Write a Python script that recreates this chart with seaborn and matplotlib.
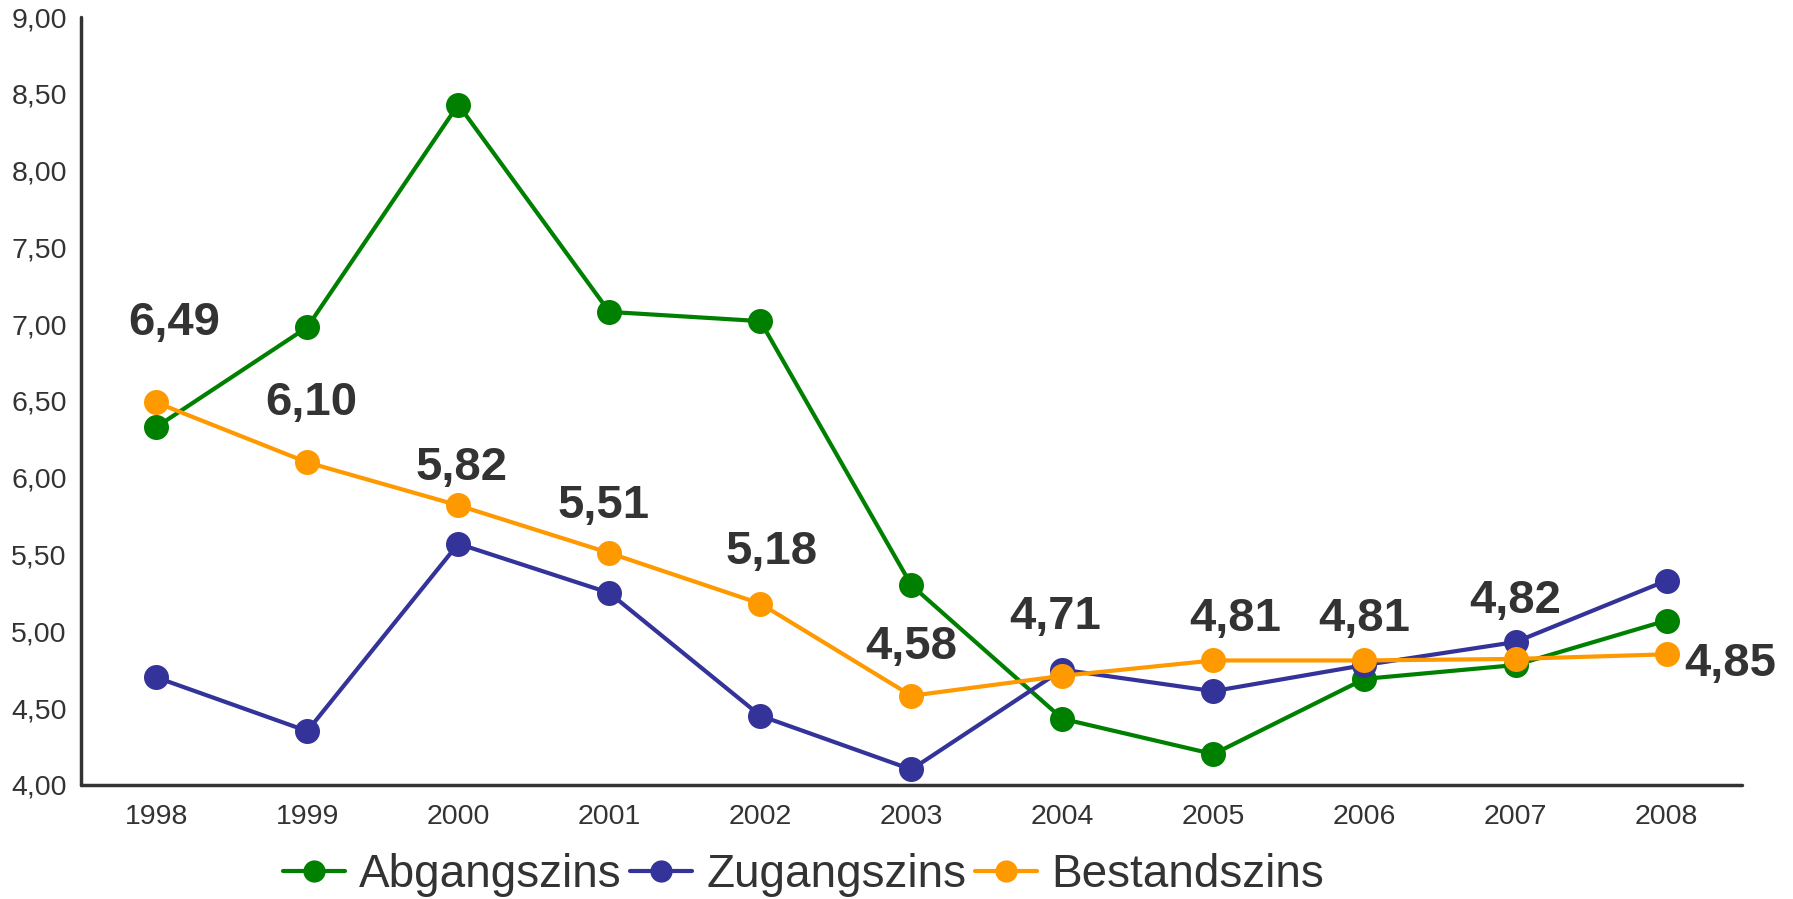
import matplotlib
matplotlib.use("Agg")
import matplotlib.pyplot as plt
import seaborn as sns
import pandas as pd

years = [1998, 1999, 2000, 2001, 2002, 2003, 2004, 2005, 2006, 2007, 2008]
abgangszins = [6.33, 6.98, 8.43, 7.08, 7.02, 5.30, 4.43, 4.20, 4.69, 4.78, 5.07]
zugangszins = [4.70, 4.35, 5.57, 5.25, 4.45, 4.10, 4.75, 4.61, 4.78, 4.93, 5.33]
bestandszins = [6.49, 6.10, 5.82, 5.51, 5.18, 4.58, 4.71, 4.81, 4.81, 4.82, 4.85]

series_names = ["Abgangszins", "Zugangszins", "Bestandszins"]
colors = ["#008000", "#333399", "#FF9900"]

# Versatz der Wertbeschriftungen in Punkten (x, y)
label_offsets = [(13, 57), (3, 43), (2, 27), (-4, 34), (8, 37), (0, 35),
                 (-5, 42), (16, 30), (0, 30), (0, 42), (46, -7)]


def build_frame():
    rows = []
    for name, vals in zip(series_names, [abgangszins, zugangszins, bestandszins]):
        for y, v in zip(years, vals):
            rows.append({"Jahr": y, "Zins": v, "Reihe": name})
    return pd.DataFrame(rows)


def main():
    sns.set_style("white")
    plt.rcParams["font.family"] = ["Liberation Sans", "DejaVu Sans"]
    text_color = "#333333"

    data = build_frame()
    fig = plt.figure(figsize=(17.93, 8.99), dpi=100)
    ax = fig.add_axes([0.045, 0.127, 0.9266, 0.854])

    sns.lineplot(data=data, x="Jahr", y="Zins", hue="Reihe", hue_order=series_names,
                 palette=colors, marker="o", markersize=18, linewidth=3,
                 markeredgewidth=0, ax=ax, legend=True)

    ax.set_xlim(1997.5, 2008.5)
    ax.set_ylim(4.0, 9.0)
    ax.set_xticks(years)
    ax.set_xticklabels([str(y) for y in years])
    yt = [4.0 + 0.5 * i for i in range(11)]
    ax.set_yticks(yt)
    ax.set_yticklabels([f"{v:.2f}".replace(".", ",") for v in yt])
    ax.tick_params(axis="both", length=0, labelsize=20.5, colors=text_color, pad=14)
    ax.tick_params(axis="y", pad=10)
    ax.set_xlabel("")
    ax.set_ylabel("")
    sns.despine(ax=ax)
    for side in ["left", "bottom"]:
        ax.spines[side].set_color(text_color)
        ax.spines[side].set_linewidth(2.5)
        ax.spines[side].set_capstyle("round")

    # Werte der Bestandszins-Reihe
    for y, v, off in zip(years, bestandszins, label_offsets):
        label = f"{v:.2f}".replace(".", ",")
        ax.annotate(label, (y, v), xytext=off, textcoords="offset points",
                    ha="center", va="center", fontsize=34, fontweight="bold",
                    color=text_color)

    handles, labels = ax.get_legend_handles_labels()
    for h in handles:
        h.set_markersize(16)
    ax.legend(handles, labels, loc="center", bbox_to_anchor=(0.448, 0.027),
              bbox_transform=fig.transFigure, ncol=3, frameon=False,
              fontsize=33, labelcolor=text_color, handlelength=1.35,
              handletextpad=0.3, columnspacing=0.2)

    fig.savefig("out.png", dpi=100)


if __name__ == "__main__":
    main()
